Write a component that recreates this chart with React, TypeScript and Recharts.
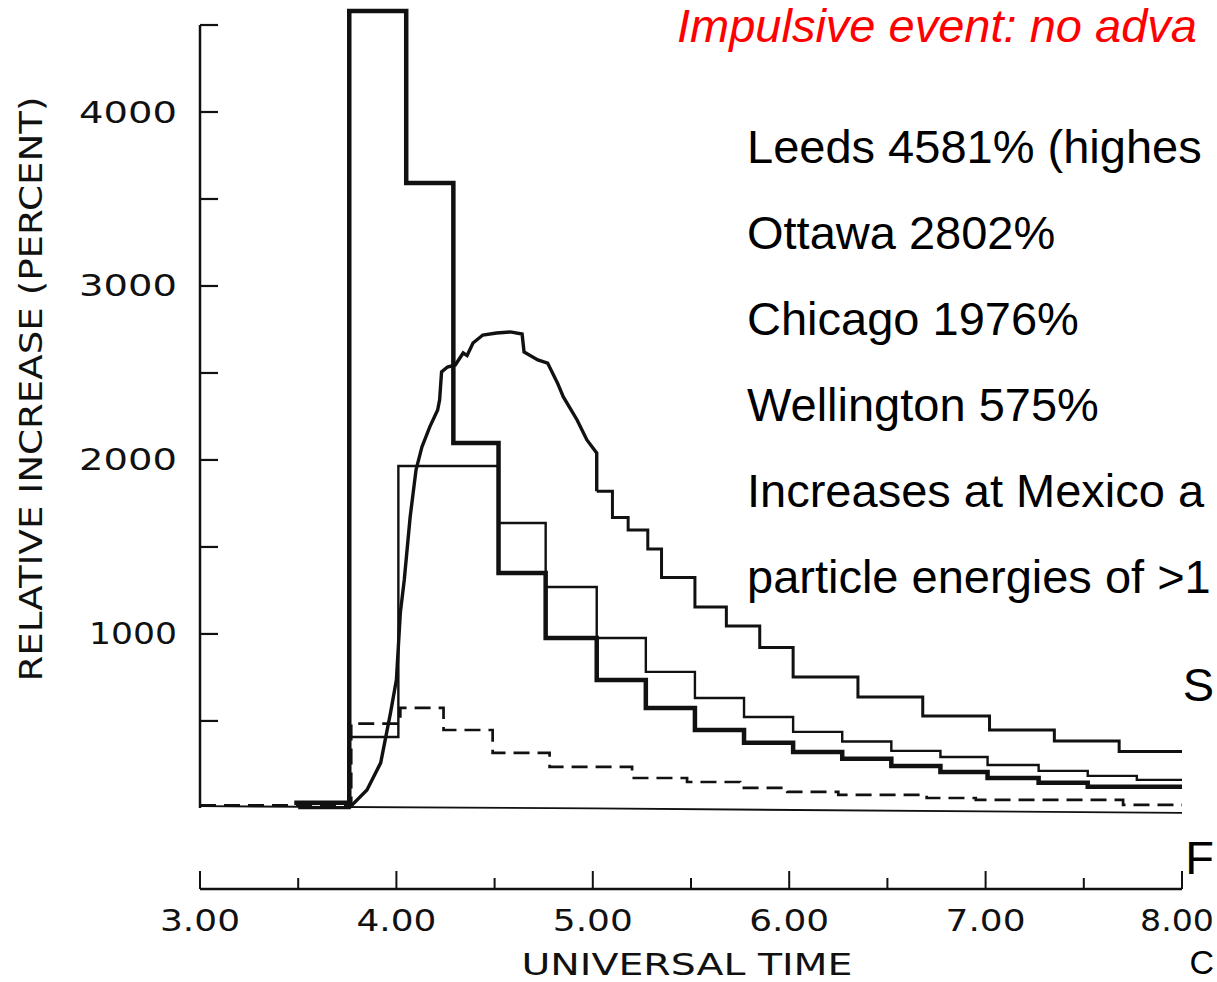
import { LineChart, Line, XAxis, YAxis, ReferenceLine } from 'recharts';

// x ticks (universal time, hours) and y ticks (relative increase, %)
const timeTicks = [3, 3.5, 4, 4.5, 5, 5.5, 6, 6.5, 7, 7.5, 8];
const percentTicks = [500, 1000, 1500, 2000, 2500, 3000, 3500, 4000, 4500];

// Leeds (heavy step line)
const leedsTime = [3.48, 3.76, 4.05, 4.29, 4.52, 4.76, 5.02, 5.27, 5.52, 5.77, 6.02, 6.27, 6.52, 6.77, 7.01, 7.27, 7.52, 8.0];
const leedsValue = [30, 4581, 3592, 2098, 1351, 977, 736, 575, 448, 374, 322, 282, 241, 207, 172, 144, 121, 121];

// Ottawa (continuous rise, then stepped decay)
const ottawaRiseTime = [3.76, 3.85, 3.92, 3.97, 4.0, 4.02, 4.04, 4.07, 4.1, 4.13, 4.17, 4.21, 4.22, 4.23, 4.26, 4.3, 4.34, 4.36, 4.39, 4.44, 4.51, 4.58, 4.64, 4.65, 4.72, 4.77, 4.82, 4.85, 4.92, 4.97, 5.02, 5.02];
const ottawaRiseValue = [0, 103, 259, 546, 736, 1121, 1310, 1672, 1943, 2075, 2190, 2287, 2345, 2506, 2534, 2546, 2615, 2600, 2672, 2718, 2730, 2736, 2724, 2621, 2575, 2557, 2443, 2362, 2230, 2115, 2040, 1820];
const ottawaStepTime = [5.02, 5.1, 5.18, 5.28, 5.35, 5.52, 5.68, 5.85, 6.02, 6.35, 6.68, 7.02, 7.35, 7.68, 8.0];
const ottawaStepValue = [1820, 1670, 1598, 1488, 1325, 1155, 1046, 922, 753, 638, 528, 448, 385, 325, 325];

// Chicago (thin step line)
const chicagoTime = [3.5, 3.76, 4.01, 4.52, 4.76, 5.02, 5.27, 5.52, 5.77, 6.02, 6.27, 6.52, 6.77, 7.01, 7.27, 7.52, 7.77, 8.0];
const chicagoValue = [0, 408, 1965, 1638, 1270, 977, 782, 632, 523, 437, 382, 328, 293, 247, 213, 184, 161, 161];

// Wellington (dashed step line)
const wellingtonTime = [3.0, 3.77, 4.02, 4.24, 4.49, 4.78, 5.2, 5.48, 5.75, 5.99, 6.25, 6.7, 6.95, 7.7, 8.0];
const wellingtonValue = [15, 485, 575, 448, 316, 236, 172, 149, 115, 92, 75, 57, 46, 17, 17];

// near-zero station trace along the bottom
const baseTime = [3.0, 5.0, 8.0];
const baseValue = [10, -3, -29];

const headline = 'Impulsive event: no adva';
const notes = [
  'Leeds 4581% (highes',
  'Ottawa 2802%',
  'Chicago 1976%',
  'Wellington 575%',
  'Increases at Mexico a',
  'particle energies of >1',
];

const toPoints = (time: number[], value: number[]) => time.map((t, i) => ({ t, v: value[i] }));

const ink = '#111';
const scanFont = '"DejaVu Sans", sans-serif';
const slideFont = '"Liberation Sans", Arial, sans-serif';

function TimeTick({ x, y, payload }: any) {
  const v = payload.value as number;
  const whole = Number.isInteger(v);
  const last = v === 8;
  return (
    <g>
      <line x1={x} y1={y} x2={x} y2={y - (whole ? 18 : 11)} stroke={ink} strokeWidth={2} />
      {whole && (
        <text x={last ? x - 5 : x} y={y + 31} textAnchor="middle" dominantBaseline="central" fontFamily={scanFont}
          fontSize={30} fill={ink} textLength={last ? 74 : 80} lengthAdjust="spacingAndGlyphs">
          {v.toFixed(2)}
        </text>
      )}
    </g>
  );
}

function PercentTick({ x, y, payload }: any) {
  const v = payload.value as number;
  const labelled = v % 1000 === 0 && v < 4500;
  return (
    <g>
      <line x1={x} y1={y} x2={x + 18} y2={y} stroke={ink} strokeWidth={2.2} />
      {labelled && (
        <text x={x - 23} y={y} textAnchor="end" dominantBaseline="central" fontFamily={scanFont}
          fontSize={30} fill={ink} textLength={v === 1000 ? 88 : 98} lengthAdjust="spacingAndGlyphs">
          {v}
        </text>
      )}
    </g>
  );
}

export default function App() {
  return (
    <div style={{ position: 'absolute', left: 0, top: 0, width: 1217, height: 982, background: '#fff' }}>
      <LineChart width={1217} height={982} margin={{ top: 1, right: 35, bottom: 0, left: 0 }}>
        <XAxis type="number" dataKey="t" domain={[3, 8]} ticks={timeTicks} interval={0} height={93}
          axisLine={{ stroke: ink, strokeWidth: 2.5 }} tickLine={false} tickSize={0} tickMargin={0}
          tick={TimeTick} />
        <YAxis type="number" dataKey="v" domain={[-466, 4638]} ticks={percentTicks} interval={0} width={200}
          axisLine={false} tickLine={false} tickSize={0} tickMargin={0} tick={PercentTick} />
        <ReferenceLine segment={[{ x: 3, y: 0 }, { x: 3, y: 4500 }]} stroke={ink} strokeWidth={2.5} />
        <Line data={toPoints(baseTime, baseValue)} dataKey="v" type="linear" stroke={ink}
          strokeWidth={1.8} dot={false} isAnimationActive={false} />
        <Line data={toPoints(wellingtonTime, wellingtonValue)} dataKey="v" type="stepAfter" stroke={ink}
          strokeWidth={2.7} strokeDasharray="16 8" dot={false} isAnimationActive={false} />
        <Line data={toPoints(chicagoTime, chicagoValue)} dataKey="v" type="stepAfter" stroke={ink}
          strokeWidth={2.4} dot={false} isAnimationActive={false} />
        <Line data={toPoints(ottawaRiseTime, ottawaRiseValue)} dataKey="v" type="linear" stroke={ink}
          strokeWidth={3.4} dot={false} isAnimationActive={false} />
        <Line data={toPoints(ottawaStepTime, ottawaStepValue)} dataKey="v" type="stepAfter" stroke={ink}
          strokeWidth={3} dot={false} isAnimationActive={false} />
        <Line data={toPoints(leedsTime, leedsValue)} dataKey="v" type="stepAfter" stroke={ink}
          strokeWidth={4.5} dot={false} isAnimationActive={false} />
      </LineChart>

      <svg width={1217} height={982} style={{ position: 'absolute', left: 0, top: 0, pointerEvents: 'none' }}>
        <text x={31} y={389} transform="rotate(-90 31 389)" textAnchor="middle" dominantBaseline="central"
          fontFamily={scanFont} fontSize={32} fill={ink} textLength={585} lengthAdjust="spacingAndGlyphs">
          RELATIVE INCREASE (PERCENT)
        </text>
        <text x={687} y={975} textAnchor="middle" fontFamily={scanFont}
          fontSize={30} fill={ink} textLength={331} lengthAdjust="spacingAndGlyphs">
          UNIVERSAL TIME
        </text>

        <text x={677} y={42} fontFamily={slideFont} fontStyle="italic" fontSize={47} fill="#ff0000">
          {headline}
        </text>
        {notes.map((line, i) => (
          <text key={line} x={747} y={163 + i * 86} fontFamily={slideFont} fontSize={47} fill="#000">
            {line}
          </text>
        ))}
        <text x={1214} y={701} textAnchor="end" fontFamily={slideFont} fontSize={47} fill="#000">S</text>
        <text x={1214} y={874} textAnchor="end" fontFamily={slideFont} fontSize={47} fill="#000">F</text>
        <text x={1214} y={974} textAnchor="end" fontFamily={slideFont} fontSize={34} fill="#000">C</text>
      </svg>
    </div>
  );
}
